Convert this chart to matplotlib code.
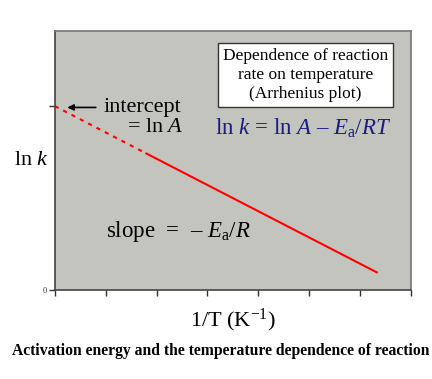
import matplotlib.pyplot as plt

plt.rcParams['font.family'] = ['Liberation Serif', 'DejaVu Serif']
plt.rcParams['mathtext.fontset'] = 'custom'
plt.rcParams['mathtext.rm'] = 'Liberation Serif'
plt.rcParams['mathtext.it'] = 'Liberation Serif:italic'
plt.rcParams['mathtext.bf'] = 'Liberation Serif:bold'

# Arrhenius line (arbitrary units)
x_extrap = [0.0, 1.8]
y_extrap = [7.1, 5.27]
x_data = [1.8, 6.33]
y_data = [5.27, 0.68]
x_ticks = [0, 1, 2, 3, 4, 5, 6, 7]
y_ticks = [0, 7.1]
y_ticklabels = ['0', '']

fig = plt.figure(figsize=(4.32, 3.79), dpi=100)
ax = fig.add_axes([0.127, 0.235, 0.824, 0.683])
ax.set_facecolor('#c4c4bf')

ax.plot(x_extrap, y_extrap, color='#ff0000', lw=1.5, dashes=(2, 2.5))
ax.plot(x_data, y_data, color='#ff0000', lw=1.5)

ax.set_xlim(0, 7)
ax.set_ylim(0, 10)
ax.set_xticks(x_ticks)
ax.set_xticklabels([])
ax.set_yticks(y_ticks)
ax.set_yticklabels(y_ticklabels, fontsize=6)
ax.tick_params(direction='out', length=4, width=1, colors='#333333', pad=2)
for side in ['left', 'bottom']:
    ax.spines[side].set_color('#444444')
    ax.spines[side].set_linewidth(1.2)
for side in ['top', 'right']:
    ax.spines[side].set_color('#777777')
    ax.spines[side].set_linewidth(1.2)

ax.set_xlabel(r'1/T (K$^{-1}$)', fontsize=16, labelpad=6)
ax.set_ylabel(r'ln $k$', fontsize=16, rotation=0, labelpad=8, va='center')

ax.text(0.704, 0.83, 'Dependence of reaction\nrate on temperature\n(Arrhenius plot)',
        transform=ax.transAxes, ha='center', va='center', fontsize=12.5, linespacing=1.25,
        bbox=dict(boxstyle='square,pad=0.3', fc='white', ec='#333333', lw=1))
ax.text(0.697, 0.625, r'ln $k$ = ln $A$ – $E_\mathrm{a}$/$RT$', transform=ax.transAxes,
        ha='center', va='center', fontsize=16.5, color='#1a1a80')
ax.annotate('', xy=(0.035, 0.705), xytext=(0.115, 0.705), xycoords='axes fraction',
            arrowprops=dict(arrowstyle='-|>', color='black', lw=1.2,
                            mutation_scale=9, shrinkA=0, shrinkB=0))
ax.text(0.138, 0.705, 'intercept', transform=ax.transAxes,
        ha='left', va='center', fontsize=16)
ax.text(0.362, 0.628, r'= ln $A$', transform=ax.transAxes,
        ha='right', va='center', fontsize=16)
ax.text(0.143, 0.225, r'slope  =  – $E_\mathrm{a}$/$R$', transform=ax.transAxes,
        ha='left', va='center', fontsize=16.5)

# caption runs past the right edge, as in the original
fig.text(0.028, 0.075, 'Activation energy and the temperature dependence of reaction rates',
         ha='left', va='center', fontsize=11.25, fontweight='bold')

fig.savefig('out.png', dpi=100)
